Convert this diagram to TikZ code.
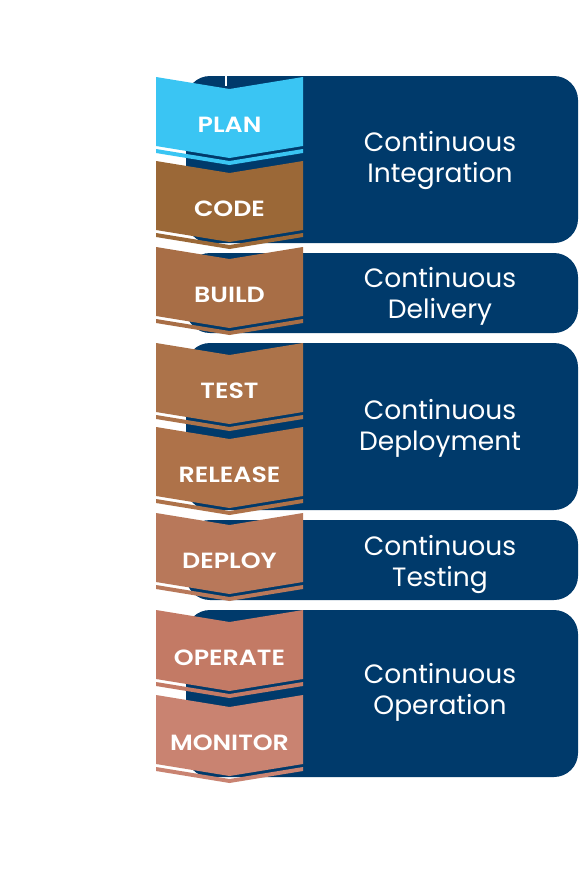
\documentclass[tikz,border=0pt]{standalone}
\usepackage{fontspec}
\setmainfont{Poppins}
\newfontfamily\lblfont[FakeStretch=1.15]{Poppins SemiBold}
\definecolor{navy}{RGB}{0,58,107}
\definecolor{cplan}{RGB}{58,197,243}
\definecolor{ccode}{RGB}{155,104,55}
\definecolor{cbuild}{RGB}{168,110,70}
\definecolor{ctest}{RGB}{172,115,74}
\definecolor{crelease}{RGB}{174,114,73}
\definecolor{cdeploy}{RGB}{184,120,90}
\definecolor{coperate}{RGB}{195,122,101}
\definecolor{cmonitor}{RGB}{201,131,113}
\tikzset{
  panel/.style={fill=navy, rounded corners=24pt},
  lbl/.style={text=white, font=\lblfont\fontsize{22}{26}\selectfont, anchor=base, inner sep=0pt},
  ptext/.style={text=white, font=\fontsize{26.5}{30}\selectfont, anchor=base, inner sep=0pt},
}
\newcommand\chevbox[4]{%
  % #1 top y, #2 colour, #3 label, #4 name
  \fill[#2] (156,#1+72) -- (229.5,#1+84) -- (303,#1+72) -- (303,#1+76) -- (229.5,#1+88) -- (156,#1+76) -- cycle;
  \fill[#2] (156,#1) -- (229.5,#1+12) -- (303,#1) -- (303,#1+69) -- (229.5,#1+81) -- (156,#1+69) -- cycle;
  \node[lbl] (#4) at (229.5,#1+55) {#3};
}
\begin{document}
\begin{tikzpicture}[x=1pt,y=-1pt]
\useasboundingbox[fill=white] (0,0) rectangle (578,875);
% panels
\fill[panel] (186,76) rectangle (578,243);
\fill[panel] (186,253) rectangle (578,333);
\fill[panel] (186,343) rectangle (578,510);
\fill[panel] (186,520) rectangle (578,600);
\fill[panel] (186,610) rectangle (578,777);
% panel texts
\node[ptext] (ci1) at (440,151) {Continuous};
\node[ptext] (ci2) at (440,182) {Integration};
\node[ptext] (cd1) at (440,287) {Continuous};
\node[ptext] (cd2) at (440,318) {Delivery};
\node[ptext] (cp1) at (440,419) {Continuous};
\node[ptext] (cp2) at (440,450) {Deployment};
\node[ptext] (ct1) at (440,555) {Continuous};
\node[ptext] (ct2) at (440,586) {Testing};
\node[ptext] (co1) at (440,683) {Continuous};
\node[ptext] (co2) at (440,714) {Operation};
% chevrons
\chevbox{77}{cplan}{PLAN}{plan}
\fill[white] (225,76) rectangle (227,86);
\chevbox{161}{ccode}{CODE}{code}
\chevbox{247}{cbuild}{BUILD}{build}
\chevbox{343}{ctest}{TEST}{test}
\chevbox{427}{crelease}{RELEASE}{release}
\chevbox{513}{cdeploy}{DEPLOY}{deploy}
\chevbox{610}{coperate}{OPERATE}{operate}
\chevbox{695}{cmonitor}{MONITOR}{monitor}
\end{tikzpicture}
\end{document}
